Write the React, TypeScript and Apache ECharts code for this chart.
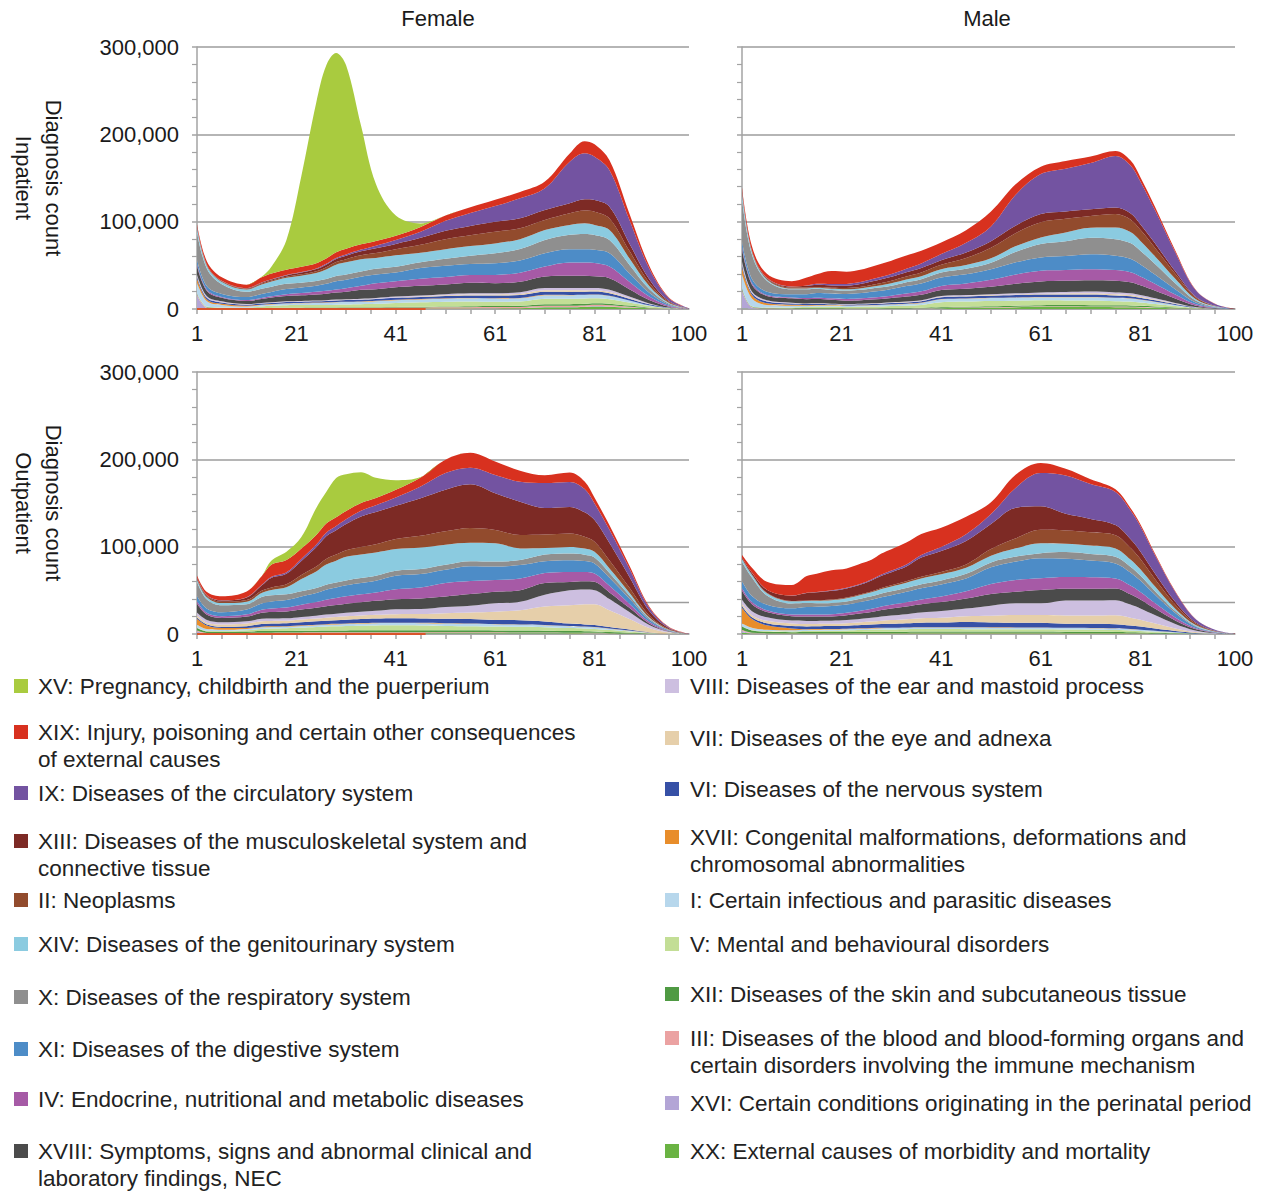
import React, { useEffect, useRef } from "react";
import * as echarts from "echarts";

// ---------- axes ----------
const AGES = [1, 3, 6, 11, 14, 16, 19, 22, 25, 27, 29, 31, 34, 37, 41, 46, 51, 56, 61, 66, 71, 76, 79, 81, 84, 88, 92, 96, 100];
const X_LABEL_AGES = [1, 21, 41, 61, 81, 100];
const X_TICK_AGES = [1, 6, 11, 16, 21, 26, 31, 36, 41, 46, 51, 56, 61, 66, 71, 76, 81, 86, 91, 96];
const Y_MAX = 300000;
const Y_STEP = 100000;
const OUTPATIENT_REF_LINE = 36000;
const FEMALE_BASELINE_AGES = [1, 47];

// ---------- chapters (stack order: bottom -> top) ----------
const STACK_ORDER = ["XX", "XVI", "III", "XII", "V", "I", "XVII", "VI", "VII", "VIII", "XVIII", "IV", "XI", "X", "XIV", "II", "XIII", "IX", "XIX", "XV"];
const LEGEND_LEFT = ["XV", "XIX", "IX", "XIII", "II", "XIV", "X", "XI", "IV", "XVIII"];
const LEGEND_RIGHT = ["VIII", "VII", "VI", "XVII", "I", "V", "XII", "III", "XVI", "XX"];

const CHAPTER_COLORS: Record<string, string> = {
  XV: "#a9cb3f",
  XIX: "#d8311f",
  IX: "#7353a1",
  XIII: "#7d2a25",
  II: "#924b2d",
  XIV: "#8bcbe0",
  X: "#8f8f8f",
  XI: "#4d8cc7",
  IV: "#a65aa6",
  XVIII: "#4b4b4b",
  VIII: "#cdbfe0",
  VII: "#e6cfaa",
  VI: "#3650a6",
  XVII: "#e88d2b",
  I: "#b7d7ec",
  V: "#c3de96",
  XII: "#4f9a43",
  III: "#eba2a2",
  XVI: "#b3a5d6",
  XX: "#6ab343",
};

const CHAPTER_LABELS: Record<string, string> = {
  XV: "XV: Pregnancy, childbirth and the puerperium",
  XIX: "XIX: Injury, poisoning and certain other consequences\nof external causes",
  IX: "IX: Diseases of the circulatory system",
  XIII: "XIII: Diseases of the musculoskeletal system and\nconnective tissue",
  II: "II: Neoplasms",
  XIV: "XIV: Diseases of the genitourinary system",
  X: "X: Diseases of the respiratory system",
  XI: "XI: Diseases of the digestive system",
  IV: "IV: Endocrine, nutritional and metabolic diseases",
  XVIII: "XVIII: Symptoms, signs and abnormal clinical and\nlaboratory findings, NEC",
  VIII: "VIII: Diseases of the ear and mastoid process",
  VII: "VII: Diseases of the eye and adnexa",
  VI: "VI: Diseases of the nervous system",
  XVII: "XVII: Congenital malformations, deformations and\nchromosomal abnormalities",
  I: "I: Certain infectious and parasitic diseases",
  V: "V: Mental and behavioural disorders",
  XII: "XII: Diseases of the skin and subcutaneous tissue",
  III: "III: Diseases of the blood and blood-forming organs and\ncertain disorders involving the immune mechanism",
  XVI: "XVI: Certain conditions originating in the perinatal period",
  XX: "XX: External causes of morbidity and mortality",
};

// ---------- data (thousands of diagnoses, one value per entry of AGES) ----------
const FEMALE_INPATIENT: Record<string, number[]> = {
  XV: [0, 0, 0, 0, 0.5, 8, 34, 104, 184, 221, 228, 210, 136, 65, 23, 4, 0, 0, 0, 0, 0, 0, 0, 0, 0, 0, 0, 0, 0],
  XIX: [2, 4, 4, 4, 6, 6.5, 6, 6, 6, 6, 6.5, 6.5, 6, 5.5, 5, 5.5, 6, 6.5, 7, 7.3, 7.6, 9.5, 14, 14.5, 11.4, 7.3, 3.3, 0.9, 0.1],
  IX: [0.5, 0.2, 0.2, 0.2, 0.3, 0.4, 0.5, 0.6, 0.8, 1, 1.2, 1.5, 2, 3, 4.5, 7, 11.5, 15, 18.2, 22.8, 25, 47.6, 52.5, 49.5, 41.9, 27, 12.2, 3.2, 0.3],
  XIII: [0.5, 0.2, 0.3, 0.5, 1, 1.2, 1.5, 2, 2.5, 3, 3.5, 4, 4.5, 5.5, 6, 8, 9.5, 10.5, 11.4, 11.4, 11.4, 11.4, 13, 13.3, 13.3, 8.5, 3.9, 1, 0.1],
  II: [1, 1, 1, 1, 1, 1, 1.2, 1.5, 2, 2.5, 3, 3.5, 4.5, 5.5, 7, 9, 11.5, 12.5, 13.3, 12.5, 11.4, 13.3, 14.5, 15.2, 13.3, 8.5, 3.9, 1, 0.1],
  XIV: [5, 3, 2.5, 2.5, 5, 6, 7, 8, 9, 11, 13, 14, 14, 12.5, 13.2, 11, 11, 11, 11.4, 11.4, 11.4, 11.4, 12.2, 11.4, 11.4, 7.3, 3.3, 0.9, 0.05],
  X: [31.5, 20, 11, 6, 6, 6, 6, 5.5, 5.5, 5.5, 6, 6, 6, 6.5, 6.5, 6.5, 8, 9.5, 11.4, 13, 15.2, 16.4, 17.5, 17, 15.2, 9.8, 4.4, 1.2, 0.1],
  XI: [5, 4, 3.5, 3.5, 4.5, 5, 6, 6.5, 7, 8, 9.5, 9.8, 10.5, 10, 10, 12.5, 13, 12.5, 13.3, 14, 15.2, 15.2, 15.2, 15.2, 15.2, 9.8, 4.4, 1.2, 0.1],
  IV: [2, 1.5, 1, 1, 1.2, 1.5, 2, 2.5, 3, 3.2, 3.5, 4, 4.5, 6.8, 7, 8, 8.5, 9, 9.5, 10.5, 11.4, 15.2, 15.2, 15.2, 13.3, 8.5, 3.9, 1, 0.05],
  XVIII: [10, 6, 4, 3.5, 4.5, 5.5, 6, 6.5, 7, 7.5, 8, 8.5, 10.2, 10, 10.5, 11, 11, 12.1, 11.4, 12, 13.3, 14.1, 14.1, 13.3, 13.3, 8.5, 3.9, 1, 0.1],
  VIII: [2, 1.5, 1.2, 0.5, 0.5, 0.5, 0.5, 0.5, 0.6, 0.6, 0.7, 0.7, 0.8, 0.9, 1, 1.1, 1.3, 1.4, 1.5, 1.8, 2.5, 2.6, 2.7, 2.7, 2.5, 1.6, 0.7, 0.2, 0],
  VII: [0.5, 0.3, 0.2, 0.2, 0.2, 0.2, 0.3, 0.3, 0.3, 0.3, 0.3, 0.3, 0.4, 0.4, 0.5, 0.6, 0.8, 1, 1.2, 1.4, 1.8, 1.8, 1.6, 1.5, 1.4, 0.9, 0.4, 0.1, 0],
  VI: [2, 2, 1.5, 1.2, 1.2, 1.2, 1.3, 1.4, 1.5, 1.6, 1.7, 1.8, 1.9, 2, 2.2, 2.4, 2.6, 2.8, 3, 3.2, 3.5, 3.5, 3.4, 3.4, 3, 1.9, 0.9, 0.2, 0],
  XVII: [5, 2, 1.2, 0.8, 0.5, 0.5, 0.5, 0.5, 0.5, 0.5, 0.5, 0.5, 0.5, 0.5, 0.5, 0.5, 0.5, 0.5, 0.4, 0.4, 0.4, 0.3, 0.3, 0.3, 0.3, 0.2, 0.1, 0, 0],
  I: [12, 6, 3, 1.5, 1.5, 1.5, 1.8, 2, 2.2, 2.4, 2.6, 2.7, 2.8, 3, 3.2, 3.3, 3.4, 3.5, 3.6, 3.7, 4, 4, 3.9, 3.8, 3.5, 2.3, 1, 0.3, 0],
  V: [0.5, 0.5, 0.5, 0.6, 2, 2.5, 3, 3, 3, 3, 3.2, 3.3, 3.5, 3.8, 4.5, 5, 5.5, 5.5, 5, 5, 6.5, 6.3, 6.2, 5.7, 5.2, 3.4, 1.5, 0.4, 0],
  XII: [1, 0.5, 0.4, 0.3, 0.4, 0.5, 0.6, 0.6, 0.6, 0.6, 0.6, 0.6, 0.6, 0.7, 0.8, 0.9, 1, 1.1, 1.2, 1.3, 1.6, 1.7, 1.8, 1.9, 1.8, 1.2, 0.5, 0.1, 0],
  III: [1, 0.5, 0.4, 0.3, 0.3, 0.4, 0.5, 0.6, 0.7, 0.8, 0.9, 1, 1, 1.1, 1.2, 1.2, 1.3, 1.4, 1.4, 1.4, 1.5, 1.6, 1.6, 1.5, 1.4, 0.9, 0.4, 0.1, 0],
  XVI: [15, 1, 0.2, 0.1, 0.1, 0.1, 0.1, 0.1, 0.1, 0.1, 0.1, 0.1, 0.1, 0.1, 0.1, 0.1, 0.1, 0.1, 0.1, 0.1, 0.2, 0.2, 0.3, 0.3, 0.3, 0.2, 0.1, 0, 0],
  XX: [0.5, 0.3, 0.2, 0.2, 0.2, 0.2, 0.2, 0.2, 0.2, 0.2, 0.2, 0.2, 0.2, 0.2, 0.3, 0.4, 0.5, 0.6, 0.7, 0.8, 2, 2, 2.2, 3, 2.6, 1.6, 0.8, 0.2, 0],
};

const MALE_INPATIENT: Record<string, number[]> = {
  XIX: [3, 5, 4.6, 6, 9, 11, 15, 14, 14, 14.5, 15, 15.3, 15, 14.5, 13.4, 14.5, 17, 12, 8.4, 8.8, 7.6, 5.7, 5.5, 4.8, 3.7, 2.1, 0.7, 0.2, 0],
  IX: [0.8, 0.2, 0.3, 0.3, 0.5, 1, 1.5, 2, 2.2, 2.5, 2.8, 3, 4, 5.2, 7, 11, 17, 35.5, 45.8, 49, 53, 59, 55, 49, 37.8, 21.8, 7.5, 2, 0.1],
  XIII: [0.5, 0.2, 0.5, 1, 2, 2.5, 2.7, 2.7, 3.5, 4, 4.3, 4.6, 5, 5.2, 5.3, 6.5, 7.6, 8.5, 9.5, 8.5, 7.6, 7.6, 7.2, 6.3, 4.9, 2.8, 1, 0.25, 0],
  II: [1.5, 1, 1, 1, 1, 1, 1.2, 1.5, 1.7, 2, 2.5, 3, 3.5, 4.2, 5, 8, 12, 15, 17.2, 15.5, 13.4, 15.3, 14.4, 12.8, 9.8, 5.7, 1.9, 0.5, 0],
  XIV: [8, 3, 1.5, 1, 1, 1, 1.3, 1.5, 1.7, 2, 2.4, 2.7, 3, 3.4, 3.8, 4.2, 5, 6.5, 7.6, 10, 11.5, 13.4, 12.6, 11.2, 8.6, 5, 1.7, 0.45, 0],
  X: [47.5, 28, 12.6, 5.5, 5.5, 5, 4, 3.8, 3.8, 3.8, 3.8, 3.8, 4.5, 5, 5.7, 6.3, 7.5, 12, 15.3, 17, 19, 19, 18, 15.8, 12.2, 7, 2.4, 0.6, 0],
  XI: [6, 5, 3.8, 3.8, 4.5, 5.3, 5.5, 5.7, 6, 6.5, 7, 7.6, 8.5, 9, 9.6, 10.5, 12, 14, 15.3, 16, 17, 16.4, 15.4, 13.7, 10.5, 6.1, 2.1, 0.55, 0],
  IV: [3, 1.5, 1, 1, 1.2, 1.5, 1.7, 2, 2.2, 2.4, 2.5, 2.7, 3.5, 4, 4.6, 6, 8, 10.5, 12.2, 12.4, 12.6, 12.2, 11.5, 10.2, 7.8, 4.5, 1.5, 0.4, 0],
  XVIII: [14, 8, 5, 5, 5, 5, 4.5, 3.8, 4, 4.3, 4.6, 5, 5.7, 6.2, 6.9, 7.3, 8.5, 11, 12.6, 12.8, 13, 13.4, 12.6, 11.2, 8.6, 5, 1.7, 0.45, 0],
  VIII: [3, 1.5, 1.2, 0.7, 0.5, 0.5, 0.4, 0.4, 0.4, 0.45, 0.5, 0.5, 0.6, 0.7, 0.9, 1, 1.1, 1.3, 1.5, 1.7, 2, 2.1, 2, 1.75, 1.35, 0.8, 0.27, 0.07, 0],
  VII: [0.7, 0.3, 0.2, 0.2, 0.2, 0.2, 0.2, 0.2, 0.2, 0.2, 0.25, 0.3, 0.35, 0.4, 0.5, 0.6, 0.7, 0.8, 1, 1.2, 1.4, 1.4, 1.3, 1.15, 0.9, 0.5, 0.18, 0.05, 0],
  VI: [3, 2, 2, 1.5, 1.2, 1.2, 1.1, 1.1, 1.1, 1.15, 1.2, 1.3, 1.4, 1.6, 2.2, 2.3, 2.4, 2.6, 2.7, 2.8, 2.9, 2.7, 2.5, 2.25, 1.7, 1, 0.34, 0.09, 0],
  XVII: [8, 4, 2, 1, 0.6, 0.5, 0.4, 0.3, 0.3, 0.3, 0.3, 0.3, 0.3, 0.3, 0.3, 0.3, 0.3, 0.3, 0.3, 0.3, 0.3, 0.3, 0.3, 0.25, 0.2, 0.1, 0.04, 0.01, 0],
  I: [16, 9, 3, 2, 1.5, 1.5, 1.5, 1.4, 1.5, 1.6, 1.7, 1.8, 2, 2.3, 3.2, 3.3, 3.4, 3.5, 3.6, 3.7, 3.8, 3.6, 3.4, 3, 2.3, 1.3, 0.46, 0.12, 0],
  V: [0.5, 0.3, 0.4, 0.8, 1.2, 1.5, 1.5, 1.4, 1.6, 1.8, 2, 2.3, 2.6, 3.2, 5.5, 5.8, 6, 5.7, 5.5, 5.3, 5.2, 4.6, 4.4, 3.85, 2.95, 1.7, 0.58, 0.15, 0],
  XII: [1.5, 0.5, 0.4, 0.4, 0.5, 0.5, 0.5, 0.5, 0.5, 0.5, 0.55, 0.6, 0.65, 0.7, 0.9, 1, 1.1, 1.2, 1.3, 1.4, 1.5, 1.5, 1.4, 1.25, 0.95, 0.55, 0.19, 0.05, 0],
  III: [1.5, 0.5, 0.4, 0.3, 0.3, 0.3, 0.3, 0.2, 0.2, 0.2, 0.2, 0.25, 0.3, 0.35, 0.4, 0.45, 0.5, 0.5, 0.6, 0.6, 0.7, 0.7, 0.7, 0.6, 0.45, 0.25, 0.09, 0.02, 0],
  XVI: [20, 1.5, 0.2, 0.1, 0.1, 0.1, 0.05, 0.05, 0.05, 0.05, 0.05, 0.05, 0.05, 0.05, 0.05, 0.05, 0.05, 0.05, 0.05, 0.05, 0.05, 0.05, 0.05, 0.05, 0.05, 0.02, 0.01, 0, 0],
  XX: [0.5, 0.3, 0.2, 0.2, 0.2, 0.2, 0.2, 0.2, 0.2, 0.2, 0.15, 0.2, 0.25, 0.4, 1, 1.2, 1.45, 2.05, 2.45, 2.45, 2.15, 2.05, 1.95, 1.75, 1.35, 0.78, 0.24, 0.04, 0],
};

const FEMALE_OUTPATIENT: Record<string, number[]> = {
  XV: [0, 0, 0, 0, 0, 4.6, 9.5, 13, 31, 36, 45, 42, 35, 23, 11, 0.5, 0, 0, 0, 0, 0, 0, 0, 0, 0, 0, 0, 0, 0],
  XIX: [2.5, 3.5, 4.5, 6.5, 10, 14, 14, 12, 11, 10.5, 10, 9.5, 9, 8.4, 8.8, 10.3, 15.3, 17, 15.3, 12.6, 8.8, 10.7, 8.5, 6.5, 5.2, 3.3, 1.3, 0.3, 0],
  IX: [0.3, 0.3, 0.3, 0.4, 0.8, 1.2, 1.8, 2.5, 3.2, 4, 4.8, 5.5, 6.5, 7.6, 9.5, 13.4, 19, 19, 21, 23, 28.6, 28.6, 26.7, 19, 15.2, 9.5, 3.9, 1, 0.05],
  XIII: [0.8, 1, 1.5, 3, 6, 11, 12, 16, 22, 26, 28, 30, 35, 37, 38, 43, 47.7, 50, 42, 38, 30.5, 30.5, 28, 24.8, 19.8, 12.4, 5, 1.2, 0.05],
  II: [1, 1.2, 1.5, 1.8, 2.5, 3, 3.5, 4.5, 5.5, 6.5, 7, 7.5, 8.5, 9.5, 11.5, 13.4, 15.3, 17, 15.3, 15.3, 15.3, 15.3, 13.5, 11.5, 9.2, 5.8, 2.3, 0.6, 0],
  XIV: [3, 2.5, 2.5, 3, 4.5, 6, 8, 14, 19, 23, 25, 27, 27, 26.7, 25, 24.8, 23, 21, 21, 13.4, 7.6, 7.6, 7, 6.5, 5.2, 3.3, 1.3, 0.3, 0],
  X: [16, 10.5, 8, 6, 7.5, 7, 6.5, 6, 5.7, 5.7, 5.7, 5.7, 5.7, 5.7, 5.7, 5.7, 5.7, 5.7, 5.7, 5.7, 7.6, 7.6, 7.3, 6.9, 5.5, 3.5, 1.4, 0.35, 0],
  XI: [6, 5, 4.5, 5.5, 7, 8, 8.5, 9.5, 10.5, 11.5, 12, 12.5, 13, 13.4, 15.3, 15.3, 15.3, 17, 15.3, 15.3, 13.4, 13.4, 12.5, 11.5, 9.2, 5.8, 2.3, 0.6, 0],
  IV: [3, 2, 2, 2.5, 3.5, 4, 4.5, 5.5, 6.5, 7.5, 8, 8.5, 9, 9.5, 11.5, 12.6, 15.3, 15, 13.4, 13.4, 11.5, 11.5, 10.5, 9.5, 7.6, 4.8, 1.9, 0.5, 0],
  XVIII: [10, 6, 5, 5.5, 7, 7.5, 8, 8.5, 9, 9.5, 10, 10.5, 11, 11.5, 11.5, 12.2, 12.2, 13.4, 13.4, 13.4, 13.4, 9.5, 9.5, 9.5, 7.6, 4.8, 1.9, 0.5, 0],
  VIII: [3, 3, 2.5, 2.5, 2.8, 2.8, 2.8, 3, 3.3, 3.6, 3.8, 4, 4.3, 4.6, 5.7, 5.7, 6.9, 7.6, 9.5, 9.5, 13.4, 17.2, 17, 16, 12.8, 8, 3.2, 0.8, 0.05],
  VII: [2.5, 2, 2.5, 3, 3.2, 3, 2.8, 3, 3.2, 3.4, 3.6, 3.8, 4, 4.2, 4.6, 5, 6.5, 7.6, 9.5, 11.5, 17.2, 21, 23, 24, 19.2, 12, 4.9, 1.2, 0.05],
  VI: [1.5, 1.4, 1.6, 2.2, 3, 3.2, 3.3, 3.6, 3.8, 4, 4.2, 4.4, 4.6, 4.8, 5, 5, 5, 5, 4.6, 4.8, 4, 2.8, 2.5, 2.3, 1.8, 1.2, 0.5, 0.1, 0],
  XVII: [7, 4, 2, 1, 0.8, 0.7, 0.6, 0.6, 0.6, 0.6, 0.6, 0.6, 0.6, 0.6, 0.5, 0.5, 0.5, 0.5, 0.4, 0.4, 0.3, 0.3, 0.3, 0.3, 0.2, 0.15, 0.05, 0, 0],
  I: [3, 2, 1.5, 1.5, 1.8, 1.8, 1.8, 1.9, 2, 2.1, 2.2, 2.3, 2.4, 2.5, 2.5, 2.5, 2.6, 2.7, 2.5, 2.4, 2.3, 2, 1.9, 1.8, 1.4, 0.9, 0.4, 0.1, 0],
  V: [0.5, 0.6, 0.8, 1.5, 2.5, 3, 3.3, 3.8, 4.3, 4.6, 4.8, 5, 5.3, 5.5, 5.7, 5.5, 5, 4.6, 4.5, 4.3, 4, 3.5, 3.2, 3, 2.4, 1.5, 0.6, 0.15, 0],
  XII: [3, 1.8, 1.5, 1.6, 1.8, 1.8, 1.7, 1.8, 1.9, 2, 2, 2.1, 2.2, 2.3, 2.3, 2.3, 2.3, 2.3, 2.2, 2.1, 2, 1.8, 1.7, 1.5, 1.2, 0.75, 0.3, 0.1, 0],
  III: [1, 0.5, 0.4, 0.5, 0.6, 0.6, 0.6, 0.7, 0.7, 0.8, 0.8, 0.8, 0.8, 0.8, 0.8, 0.8, 0.8, 0.8, 0.8, 0.7, 0.7, 0.6, 0.6, 0.5, 0.4, 0.25, 0.1, 0.03, 0],
  XVI: [2, 0.3, 0.1, 0.1, 0.1, 0.1, 0.1, 0.1, 0.2, 0.2, 0.2, 0.2, 0.2, 0.2, 0.2, 0.2, 0.2, 0.2, 0.1, 0.1, 0.1, 0.1, 0.1, 0.1, 0.1, 0.05, 0.02, 0, 0],
  XX: [1, 0.4, 0.5, 0.6, 0.8, 0.8, 0.9, 1, 1, 1, 1, 1, 1, 1, 1, 1, 1, 1, 1, 1, 1, 0.8, 0.7, 0.7, 0.5, 0.35, 0.13, 0.05, 0],
};

const MALE_OUTPATIENT: Record<string, number[]> = {
  XIX: [3, 5.5, 9, 12, 19, 21, 23, 22, 23, 22.5, 24, 24.5, 25, 24, 22, 20, 13.4, 15, 11.5, 7.6, 5.5, 3, 2.6, 2.3, 1.7, 0.9, 0.3, 0.1, 0],
  IX: [0.2, 0.2, 0.2, 0.2, 0.3, 0.4, 0.6, 0.8, 1, 1.2, 1.5, 1.8, 2.3, 3, 4.6, 7.6, 11.5, 23, 38, 44, 40, 38, 33, 29, 20.9, 11.2, 4.1, 1.1, 0.05],
  XIII: [1, 2, 3.5, 6, 8.5, 9, 10, 10.5, 11, 12.5, 14, 15, 17, 22, 24, 27, 28.7, 35, 27, 19, 15.3, 11.5, 10, 8.7, 6.3, 3.4, 1.2, 0.35, 0],
  II: [0.5, 0.5, 0.5, 0.5, 0.6, 0.7, 0.8, 0.9, 1, 1.1, 1.2, 1.3, 1.6, 2, 2.7, 3.8, 7.6, 11.5, 15.3, 15.3, 15.3, 15.3, 13.4, 11.6, 8.4, 4.5, 1.7, 0.45, 0],
  XIV: [3.5, 3, 2.5, 2.5, 2.5, 2.7, 3, 3.5, 4.2, 4.6, 5, 5.5, 6, 6.5, 6.9, 6.9, 7.6, 9.5, 11.5, 9.5, 9.5, 9.5, 8.3, 7.2, 5.2, 2.8, 1, 0.3, 0],
  X: [22, 21, 10.5, 5.5, 4.5, 4, 3.5, 3.6, 3.8, 4, 4.2, 4.5, 4.5, 4.5, 4.6, 5.4, 5.7, 5.7, 5.7, 7.6, 7.6, 7.6, 6.6, 5.8, 4.2, 2.2, 0.8, 0.25, 0],
  XI: [8, 7, 6.5, 7, 8.7, 9, 9.5, 9.5, 10, 10.3, 10.7, 11, 12, 13, 13.8, 14.5, 19, 21, 23, 21, 19, 17.2, 15, 13, 9.5, 5.1, 1.9, 0.5, 0],
  IV: [3, 2.5, 2, 2, 2.2, 2.3, 2.5, 2.8, 3.2, 3.5, 3.9, 4.2, 4.8, 5.5, 6.5, 8.4, 11.5, 13.4, 13.4, 13.4, 13.4, 11.5, 10, 8.7, 6.3, 3.4, 1.2, 0.35, 0],
  XVIII: [10, 8, 6, 5, 5, 5, 5, 5.5, 6.2, 6.7, 7.5, 8.2, 8.8, 9.5, 10.3, 11.5, 13.4, 13.4, 15.3, 13.4, 13.4, 13.4, 11.7, 10.2, 7.4, 4, 1.5, 0.4, 0],
  VIII: [5, 4.5, 4, 3.3, 3.5, 3.5, 3.5, 3.6, 4, 4.3, 4.8, 5.2, 5.8, 6.5, 7.6, 8.8, 11.5, 13.4, 13.4, 17.2, 17.2, 17.2, 15, 13, 9.5, 5.1, 1.9, 0.5, 0],
  VII: [2.5, 2.5, 2.8, 3, 2.8, 2.6, 2.5, 2.8, 3.2, 3.5, 3.9, 4.2, 4.6, 5, 5.4, 6.5, 7.6, 8.8, 8.8, 9.5, 9.5, 10.3, 9, 7.8, 5.7, 3, 1.1, 0.3, 0],
  VI: [2, 2, 2.4, 2.8, 3.2, 3.3, 3.4, 3.5, 3.8, 4, 4.3, 4.5, 4.8, 5.2, 5.4, 6.1, 5.7, 5.4, 5.4, 4.6, 4.6, 4.6, 4, 3.5, 2.5, 1.4, 0.5, 0.15, 0],
  XVII: [18, 10, 5, 2, 0.7, 0.6, 0.5, 0.5, 0.5, 0.5, 0.4, 0.4, 0.4, 0.4, 0.4, 0.4, 0.4, 0.4, 0.4, 0.3, 0.3, 0.3, 0.25, 0.2, 0.15, 0.1, 0, 0, 0],
  I: [3, 2.5, 1.6, 1.3, 1.4, 1.4, 1.4, 1.4, 1.5, 1.5, 1.6, 1.6, 1.7, 1.8, 1.8, 1.8, 1.8, 1.8, 1.8, 1.7, 1.7, 1.6, 1.4, 1.2, 0.9, 0.5, 0.2, 0.05, 0],
  V: [0.5, 0.6, 0.8, 0.9, 1.1, 1.3, 1.5, 1.8, 2.1, 2.3, 2.5, 2.6, 2.7, 2.8, 2.8, 2.7, 2.6, 2.5, 2.5, 2.5, 2.4, 2.3, 2, 1.7, 1.3, 0.7, 0.2, 0.05, 0],
  XII: [4, 2.5, 1.5, 1.2, 1.3, 1.3, 1.3, 1.3, 1.3, 1.4, 1.4, 1.4, 1.5, 1.5, 1.5, 1.5, 1.5, 1.5, 1.5, 1.4, 1.4, 1.3, 1.1, 1, 0.7, 0.4, 0.1, 0.03, 0],
  III: [1, 0.5, 0.3, 0.3, 0.3, 0.3, 0.3, 0.3, 0.3, 0.3, 0.3, 0.3, 0.3, 0.3, 0.3, 0.3, 0.3, 0.3, 0.3, 0.3, 0.3, 0.3, 0.3, 0.25, 0.2, 0.1, 0.05, 0, 0],
  XVI: [2, 0.3, 0.1, 0.05, 0.05, 0.05, 0.05, 0.05, 0.05, 0.05, 0.05, 0.05, 0.05, 0.05, 0.05, 0.05, 0.05, 0.05, 0.05, 0.05, 0.05, 0.05, 0.05, 0.05, 0.05, 0.02, 0, 0, 0],
  XX: [1.5, 0.7, 0.6, 0.55, 0.65, 0.65, 0.65, 0.65, 0.75, 0.75, 0.85, 0.85, 0.85, 0.95, 0.95, 0.95, 0.95, 0.95, 0.95, 0.85, 0.85, 0.75, 0.65, 0.55, 0.4, 0.2, 0.05, 0, 0],
};

// ---------- layout / styling ----------
const FONT = '"Liberation Sans", Arial, Helvetica, sans-serif';
const TEXT_COLOR = "#1a1a1a";
const AXIS_GRAY = "#a3a3a3";
const GRID_GRAY = "#9c9c9c";

const PANELS = [
  { data: FEMALE_INPATIENT, grid: { left: 197, top: 47, width: 492, height: 262 }, yName: "Diagnosis count\nInpatient", showY: true, refLine: false, baseline: true },
  { data: MALE_INPATIENT, grid: { left: 742, top: 47, width: 493, height: 262 }, yName: "", showY: false, refLine: false, baseline: false },
  { data: FEMALE_OUTPATIENT, grid: { left: 197, top: 372, width: 492, height: 262 }, yName: "Diagnosis count\nOutpatient", showY: true, refLine: true, baseline: true },
  { data: MALE_OUTPATIENT, grid: { left: 742, top: 372, width: 493, height: 262 }, yName: "", showY: false, refLine: true, baseline: false },
];

const COLUMN_TITLES = [
  { text: "Female", x: 438 },
  { text: "Male", x: 987 },
];

const LEGEND_LEFT_Y = [686, 732, 793, 841, 900, 944, 997, 1049, 1099, 1151];
const LEGEND_RIGHT_Y = [686, 738, 789, 837, 900, 944, 994, 1038, 1103, 1151];
const LEGEND_COLUMNS = [
  { codes: LEGEND_LEFT, ys: LEGEND_LEFT_Y, boxX: 14, textX: 38 },
  { codes: LEGEND_RIGHT, ys: LEGEND_RIGHT_Y, boxX: 665, textX: 690 },
];

function buildOption() {
  const grid: any[] = [];
  const xAxis: any[] = [];
  const yAxis: any[] = [];
  const series: any[] = [];

  PANELS.forEach((p, i) => {
    grid.push({ ...p.grid, containLabel: false });
    xAxis.push({
      type: "value",
      gridIndex: i,
      min: 1,
      max: 100,
      axisLine: { show: true, onZero: false, lineStyle: { color: AXIS_GRAY, width: 1.5 } },
      axisTick: { show: true, customValues: X_TICK_AGES, length: 5, lineStyle: { color: AXIS_GRAY, width: 1.5 } },
      axisLabel: { customValues: X_LABEL_AGES, fontSize: 22, fontFamily: FONT, color: TEXT_COLOR, margin: 13 },
      splitLine: { show: false },
    });
    yAxis.push({
      type: "value",
      gridIndex: i,
      min: 0,
      max: Y_MAX,
      interval: Y_STEP,
      axisLine: { show: true, lineStyle: { color: AXIS_GRAY, width: 1.5 } },
      axisTick: { show: true, length: 5, lineStyle: { color: AXIS_GRAY, width: 1.5 } },
      minorTick: { show: true, splitNumber: 5, length: 5, lineStyle: { color: AXIS_GRAY, width: 1.2 } },
      splitLine: { show: true, lineStyle: { color: GRID_GRAY, width: 1.5 } },
      axisLabel: {
        show: p.showY,
        fontSize: 22,
        fontFamily: FONT,
        color: TEXT_COLOR,
        margin: 18,
        formatter: (v: number) => v.toLocaleString("en-US"),
      },
      name: p.yName,
      nameLocation: "middle",
      nameRotate: -90,
      nameGap: 129,
      nameTextStyle: { fontSize: 22, fontFamily: FONT, color: TEXT_COLOR, lineHeight: 30 },
    });

    if (p.refLine) {
      series.push({
        type: "line",
        xAxisIndex: i,
        yAxisIndex: i,
        data: [[OUTPATIENT_REF_LINE, 1], [OUTPATIENT_REF_LINE, 100]],
        encode: { x: 1, y: 0 },
        symbol: "none",
        silent: true,
        z: 1,
        lineStyle: { color: GRID_GRAY, width: 1.5 },
      });
    }

    // value first, age second: the value dimension is the one ECharts stacks
    STACK_ORDER.filter((code) => p.data[code]).forEach((code) => {
      const vals = p.data[code];
      series.push({
        type: "line",
        name: code,
        xAxisIndex: i,
        yAxisIndex: i,
        stack: "panel" + i,
        data: AGES.map((a, k) => [vals[k] * 1000, a]),
        encode: { x: 1, y: 0 },
        symbol: "none",
        showSymbol: false,
        smooth: 0.35,
        silent: true,
        z: 2,
        lineStyle: { width: 0, color: CHAPTER_COLORS[code] },
        itemStyle: { color: CHAPTER_COLORS[code] },
        areaStyle: { color: CHAPTER_COLORS[code], opacity: 1 },
      });
    });

    if (p.baseline) {
      series.push({
        type: "line",
        xAxisIndex: i,
        yAxisIndex: i,
        data: FEMALE_BASELINE_AGES.map((a) => [0, a]),
        encode: { x: 1, y: 0 },
        symbol: "none",
        silent: true,
        z: 4,
        lineStyle: { color: "#d9542b", width: 2 },
      });
    }
  });

  const graphic: any[] = [];
  COLUMN_TITLES.forEach((t) => {
    graphic.push({
      type: "text",
      x: t.x,
      y: 18,
      style: {
        text: t.text,
        fontSize: 22,
        fontFamily: FONT,
        fill: TEXT_COLOR,
        align: "center",
        verticalAlign: "middle",
        textAlign: "center",
        textVerticalAlign: "middle",
      },
    });
  });
  LEGEND_COLUMNS.forEach((col) => {
    col.codes.forEach((code, k) => {
      const cy = col.ys[k];
      graphic.push({
        type: "rect",
        shape: { x: col.boxX, y: cy - 7, width: 14, height: 14 },
        style: { fill: CHAPTER_COLORS[code] },
      });
      graphic.push({
        type: "text",
        x: col.textX,
        y: cy - 13.5,
        style: {
          text: CHAPTER_LABELS[code],
          fontSize: 22.5,
          fontFamily: FONT,
          fill: "#222222",
          lineHeight: 27,
          align: "left",
          verticalAlign: "top",
          textAlign: "left",
          textVerticalAlign: "top",
        },
      });
    });
  });

  return {
    animation: false,
    backgroundColor: "#ffffff",
    grid,
    xAxis,
    yAxis,
    series,
    graphic,
  };
}

export default function App() {
  const ref = useRef<HTMLDivElement>(null);
  useEffect(() => {
    if (!ref.current) return;
    const chart = echarts.init(ref.current, undefined, { renderer: "svg" });
    chart.setOption(buildOption() as any);
    return () => chart.dispose();
  }, []);
  return <div ref={ref} style={{ position: "absolute", left: 0, top: 0, width: 1269, height: 1191 }} />;
}
